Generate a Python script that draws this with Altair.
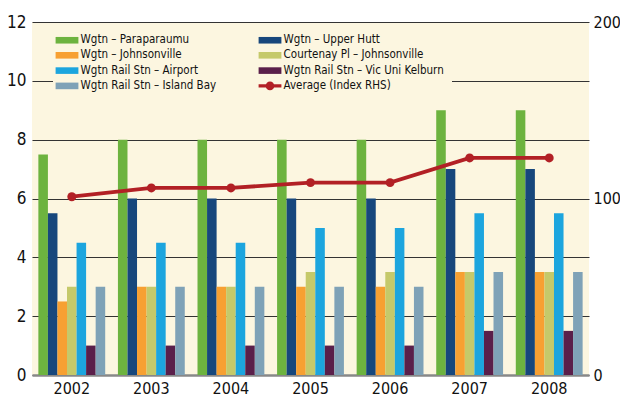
import altair as alt
import pandas as pd

years = ["2002", "2003", "2004", "2005", "2006", "2007", "2008"]
series_names = [
    "Wgtn – Paraparaumu",
    "Wgtn – Upper Hutt",
    "Wgtn – Johnsonville",
    "Courtenay Pl – Johnsonville",
    "Wgtn Rail Stn – Airport",
    "Wgtn Rail Stn – Vic Uni Kelburn",
    "Wgtn Rail Stn – Island Bay",
]
paraparaumu = [7.5, 8, 8, 8, 8, 9, 9]
upper_hutt = [5.5, 6, 6, 6, 6, 7, 7]
johnsonville = [2.5, 3, 3, 3, 3, 3.5, 3.5]
courtenay = [3, 3, 3, 3.5, 3.5, 3.5, 3.5]
airport = [4.5, 4.5, 4.5, 5, 5, 5.5, 5.5]
vic_uni = [1, 1, 1, 1, 1, 1.5, 1.5]
island_bay = [3, 3, 3, 3, 3, 3.5, 3.5]
avg_name = "Average (Index RHS)"
average = [101, 106, 106, 109, 109, 123, 123]

bar_colors = ["#6DB33F", "#17477C", "#F7A032", "#C5C96A", "#1CA5DE", "#5A1F4A", "#7FA2B7"]
avg_color = "#B22025"

# legend reading order (two columns, filled top-to-bottom)
legend_order = [
    "Wgtn – Paraparaumu",
    "Wgtn – Johnsonville",
    "Wgtn Rail Stn – Airport",
    "Wgtn Rail Stn – Island Bay",
    "Wgtn – Upper Hutt",
    "Courtenay Pl – Johnsonville",
    "Wgtn Rail Stn – Vic Uni Kelburn",
    avg_name,
]

series_values = [paraparaumu, upper_hutt, johnsonville, courtenay, airport, vic_uni, island_bay]
rows = []
for name, vals in zip(series_names, series_values):
    for y, v in zip(years, vals):
        rows.append({"year": y, "series": name, "value": v})
bars_df = pd.DataFrame(rows)
avg_df = pd.DataFrame({"year": years, "avg": average, "series": [avg_name] * len(years)})

color_map = dict(zip(series_names + [avg_name], bar_colors + [avg_color]))
legend_colors = [color_map[n] for n in legend_order]

FONT = "DejaVu Sans Condensed, Liberation Sans, sans-serif"

rect_path = "M-1.9,-0.55L1.9,-0.55L1.9,0.55L-1.9,0.55Z"
avg_path = ("M-1.9,-0.27L1.9,-0.27L1.9,0.27L-1.9,0.27Z "
            "M0.72,0A0.72,0.72,0,1,1,-0.72,0A0.72,0.72,0,1,1,0.72,0Z")
symbol_expr = "datum.value === '%s' ? '%s' : '%s'" % (avg_name, avg_path, rect_path)

color_scale = alt.Scale(domain=legend_order, range=legend_colors)

color_enc = alt.Color(
    "series:N",
    sort=legend_order,
    scale=color_scale,
    legend=alt.Legend(
        title=None,
        orient="none",
        legendX=21,
        legendY=4,
        columns=2,
        columnPadding=41,
        rowPadding=3.3,
        symbolType={"expr": symbol_expr},
        symbolSize=144,
        symbolStrokeWidth=0,
        labelOffset=7.6,
        labelFont=FONT,
        labelFontSize=11.5,
        labelColor="#111111",
        labelLimit=300,
        fillColor="#FCF6E0",
        padding=8,
    ),
)

x_enc = alt.X(
    "year:N",
    sort=years,
    scale=alt.Scale(paddingInner=0.16, paddingOuter=0.08),
    axis=alt.Axis(
        title=None,
        labelAngle=0,
        ticks=False,
        labelPadding=5,
        labelFont=FONT,
        labelFontSize=16,
        labelColor="#111111",
        domainColor="#888888",
        domainWidth=2.5,
    ),
)

bars = alt.Chart(bars_df).mark_bar().encode(
    x=x_enc,
    xOffset=alt.XOffset("series:N", sort=series_names, scale=alt.Scale(paddingInner=0, paddingOuter=0)),
    y=alt.Y(
        "value:Q",
        scale=alt.Scale(domain=[0, 12], nice=False),
        axis=alt.Axis(
            title=None,
            values=[0, 2, 4, 6, 8, 10, 12],
            ticks=False,
            domain=False,
            grid=True,
            gridColor="#333333",
            gridWidth=1,
            labelPadding=6,
            labelFont=FONT,
            labelFontSize=17,
            labelColor="#111111",
        ),
    ),
    color=color_enc,
)

line = alt.Chart(avg_df).mark_line(
    strokeWidth=3.8,
    point=alt.OverlayMarkDef(size=80, filled=True, opacity=1),
).encode(
    x=alt.X("year:N", sort=years),
    y=alt.Y(
        "avg:Q",
        scale=alt.Scale(domain=[0, 200], nice=False),
        axis=alt.Axis(
            title=None,
            orient="right",
            values=[0, 100, 200],
            ticks=False,
            domain=False,
            grid=False,
            labelPadding=4,
            labelFont=FONT,
            labelFontSize=16,
            labelColor="#111111",
        ),
    ),
    color=alt.Color("series:N", sort=legend_order, scale=color_scale),
)

chart = alt.layer(bars, line).resolve_scale(y="independent").properties(
    width=557,
    height=353,
    autosize=alt.AutoSizeParams(type="none"),
    padding={"left": 24, "top": 14, "right": 31, "bottom": 26},
    background="white",
).configure_view(
    fill="#FCF6E0",
    stroke=None,
)

chart.save("out.html", embed_options={"renderer": "svg", "actions": False})
